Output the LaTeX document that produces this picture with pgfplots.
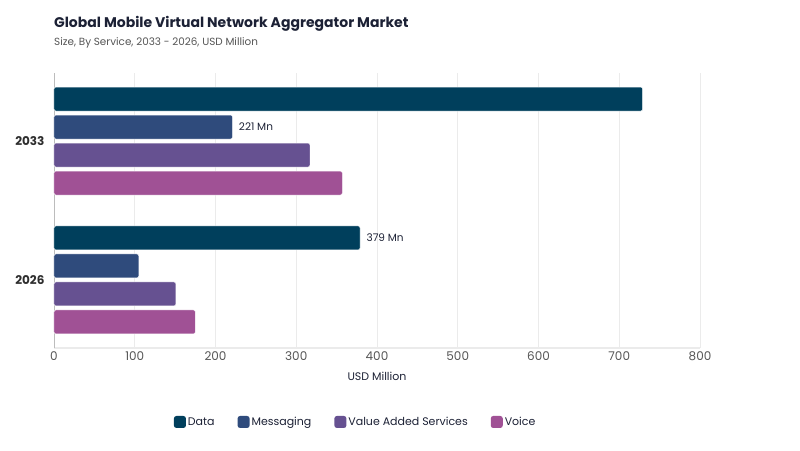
\documentclass[border=0pt]{standalone}
\usepackage{pgfplots}
\pgfplotsset{compat=1.18}
\usepackage{fontspec}
\setmainfont{Poppins}
\definecolor{cData}{HTML}{003F5C}
\definecolor{cMsg}{HTML}{2F4B7C}
\definecolor{cVas}{HTML}{665191}
\definecolor{cVoice}{HTML}{A05195}
\definecolor{titlec}{HTML}{1C2135}
\definecolor{yearc}{HTML}{2E2E2E}
\definecolor{tickc}{HTML}{555555}
\definecolor{gridc}{HTML}{EBEBEB}
\begin{document}
\begin{tikzpicture}
\begin{axis}[
  name=ax, anchor=south west,
  scale only axis, width=646pt, height=275pt,
  clip=false,
  xbar, bar width=24pt,
  xmin=0, xmax=800, xtick={0,100,...,800},
  ymin=-0.49, ymax=1.49,
  ytick={0,1}, yticklabels={2026,2033},
  yticklabel style={font=\fontsize{12}{14}\selectfont\bfseries,text=yearc,xshift=-6pt},
  xticklabel style={font=\fontsize{12}{14}\selectfont,text=tickc},
  /pgf/number format/assume math mode=true,
  xmajorgrids, grid style={gridc,line width=0.8pt},
  axis x line*=bottom, axis y line*=left,
  x axis line style={draw=gridc,line width=1.2pt,-},
  y axis line style={draw=gridc!80!black,line width=0.8pt,-},
  major tick length=0pt,
  xlabel={USD Million},
  xlabel style={font=\fontsize{11}{13}\selectfont,text=titlec,yshift=-5pt},
  legend style={at={(0.467,-0.269)},anchor=center,draw=none,legend columns=4,
    font=\fontsize{11}{13}\selectfont,text=titlec,
    /tikz/every even column/.append style={column sep=21pt}},
  legend image code/.code={\draw[#1,draw=none,rounded corners=2.5pt] (-2pt,-6pt) rectangle (10pt,6pt);},
  nodes near coords={\pgfplotspointmeta},
  point meta=explicit symbolic,
  every node near coord/.append style={font=\fontsize{10.5}{12}\selectfont,text=titlec,anchor=west,xshift=3pt},
  every axis plot/.append style={draw=white,line width=0.4pt,rounded corners=2pt},
]
\addplot[fill=cData, bar shift=42pt] coordinates {(379,0)[379 Mn] (729,1)[]};
\addplot[fill=cMsg, bar shift=14pt] coordinates {(105,0)[] (221,1)[221 Mn]};
\addplot[fill=cVas, bar shift=-14pt] coordinates {(151,0)[] (317,1)[]};
\addplot[fill=cVoice, bar shift=-42pt] coordinates {(175,0)[] (357,1)[]};
\legend{Data,Messaging,Value Added Services,Voice}
\coordinate (boxsw) at (rel axis cs:0,0);
\end{axis}
% headings, placed from the plot box corner
\node[anchor=base west,font=\fontsize{14}{17}\selectfont\bfseries,text=titlec,inner sep=0]
  at ([shift={(0pt,320pt)}]boxsw) {Global Mobile Virtual Network Aggregator Market};
\node[anchor=base west,font=\fontsize{10.4}{13}\selectfont,text=tickc,inner sep=0]
  at ([shift={(0pt,302pt)}]boxsw) {Size, By Service, 2033 - 2026, USD Million};
\path[use as bounding box] ([shift={(-54pt,-102pt)}]boxsw) rectangle ([shift={(746pt,348pt)}]boxsw);
\end{tikzpicture}
\end{document}
